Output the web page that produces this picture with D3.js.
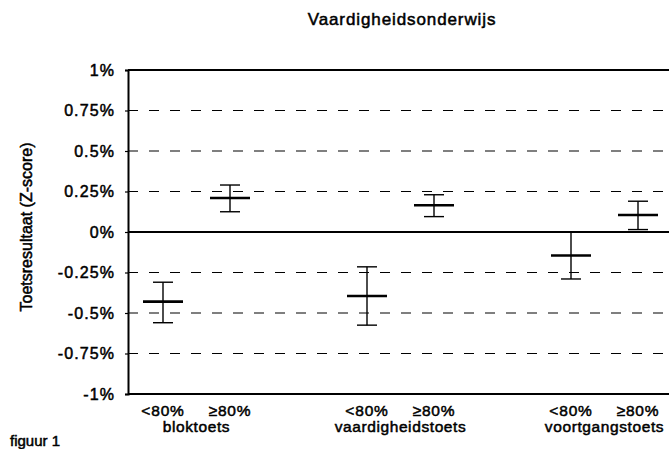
<!DOCTYPE html>
<html>
<head>
<meta charset="utf-8">
<script src="https://cdn.jsdelivr.net/npm/d3@7"></script>
<style>
  body { margin: 0; background: #fff; }
  svg { display: block; font-family: "Liberation Sans", Arial, sans-serif; }
  .ink { fill: #000; stroke: #000; stroke-width: 0.5px; }
</style>
</head>
<body>
<div id="chart"></div>
<script>
const tests = ['bloktoets', 'vaardigheidstoets', 'voortgangstoets'];
const groups = ['<80%', '≥80%'];
// mean and whisker ends per test, order: <80%, ≥80%
const means = [[-0.43, 0.21], [-0.395, 0.165], [-0.145, 0.105]];
const upper = [[-0.31, 0.29], [-0.215, 0.23], [0.0, 0.19]];
const lower = [[-0.56, 0.125], [-0.575, 0.095], [-0.29, 0.015]];
const yTicks = [1, 0.75, 0.5, 0.25, 0, -0.25, -0.5, -0.75, -1];
const yTickLabels = ['1%', '0.75%', '0.5%', '0.25%', '0%', '-0.25%', '-0.5%', '-0.75%', '-1%'];

const width = 669;
const height = 449;
const plotLeft = 128;
const plotRight = 740;

const svg = d3.select('#chart')
    .append('svg')
    .attr('width', width)
    .attr('height', height);

const y = d3.scaleLinear().domain([-1, 1]).range([394, 70]);

const x = d3.scaleBand()
    .domain(tests)
    .range([94.5, 706.5]);

const xSub = d3.scalePoint()
    .domain(groups)
    .range([-33.5, 33.5]);

const cx = (t, g) => x(t) + x.bandwidth() / 2 + xSub(g);

// title
svg.append('text')
    .attr('class', 'ink')
    .attr('x', 402)
    .attr('y', 25)
    .attr('text-anchor', 'middle')
    .attr('font-size', 17)
    .attr('letter-spacing', 0.9)
    .text('Vaardigheidsonderwijs');

// y axis title
svg.append('text')
    .attr('class', 'ink')
    .attr('transform', 'translate(32,227) rotate(-90)')
    .attr('text-anchor', 'middle')
    .attr('font-size', 16)
    .text('Toetsresultaat (Z-score)');

// grid lines
svg.append('g')
    .selectAll('line')
    .data(yTicks)
    .join('line')
    .attr('x1', plotLeft)
    .attr('x2', plotRight)
    .attr('y1', d => y(d))
    .attr('y2', d => y(d))
    .attr('stroke', '#000')
    .attr('stroke-width', d => d === 0 ? 2 : (Math.abs(d) === 1 ? 1.8 : 1.1))
    .attr('stroke-dasharray', d => (d === 0 || Math.abs(d) === 1) ? null : '10,11');

// y axis
const yAxis = d3.axisLeft(y)
    .tickValues(yTicks)
    .tickFormat((d, i) => yTickLabels[i])
    .tickSize(3)
    .tickPadding(10);

const ya = svg.append('g')
    .attr('transform', `translate(${plotLeft},0)`)
    .call(yAxis);
ya.select('.domain').attr('stroke-width', 2);
ya.selectAll('.tick line').attr('stroke-width', 1.2);
ya.selectAll('.tick text')
    .attr('class', 'ink')
    .attr('font-size', 16)
    .attr('letter-spacing', 1.1)
    .attr('font-family', '"Liberation Sans", Arial, sans-serif');

// error bars
const rows = [];
tests.forEach((t, i) => {
    groups.forEach((g, j) => {
        rows.push({ test: t, group: g, mean: means[i][j], hi: upper[i][j], lo: lower[i][j] });
    });
});

const bars = svg.append('g')
    .selectAll('g')
    .data(rows)
    .join('g')
    .attr('stroke', '#000');

bars.append('line')
    .attr('x1', d => cx(d.test, d.group))
    .attr('x2', d => cx(d.test, d.group))
    .attr('y1', d => y(d.hi))
    .attr('y2', d => y(d.lo))
    .attr('stroke-width', 1.4);

bars.append('line')
    .attr('x1', d => cx(d.test, d.group) - 10)
    .attr('x2', d => cx(d.test, d.group) + 10)
    .attr('y1', d => y(d.hi))
    .attr('y2', d => y(d.hi))
    .attr('stroke-width', 1.4);

bars.append('line')
    .attr('x1', d => cx(d.test, d.group) - 10)
    .attr('x2', d => cx(d.test, d.group) + 10)
    .attr('y1', d => y(d.lo))
    .attr('y2', d => y(d.lo))
    .attr('stroke-width', 1.4);

bars.append('line')
    .attr('x1', d => cx(d.test, d.group) - 20)
    .attr('x2', d => cx(d.test, d.group) + 20)
    .attr('y1', d => y(d.mean))
    .attr('y2', d => y(d.mean))
    .attr('stroke-width', 2.6);

// category labels
svg.append('g')
    .selectAll('text')
    .data(rows)
    .join('text')
    .attr('class', 'ink')
    .attr('x', d => cx(d.test, d.group))
    .attr('y', 416)
    .attr('text-anchor', 'middle')
    .attr('font-size', 15.5)
    .attr('letter-spacing', 0.8)
    .text(d => d.group);

svg.append('g')
    .selectAll('text')
    .data(tests)
    .join('text')
    .attr('class', 'ink')
    .attr('x', d => x(d) + x.bandwidth() / 2)
    .attr('y', 432)
    .attr('text-anchor', 'middle')
    .attr('font-size', 15.5)
    .attr('letter-spacing', 0.6)
    .text(d => d);

svg.append('text')
    .attr('class', 'ink')
    .attr('x', 10)
    .attr('y', 446)
    .attr('font-size', 15)
    .text('figuur 1');
</script>
</body>
</html>
